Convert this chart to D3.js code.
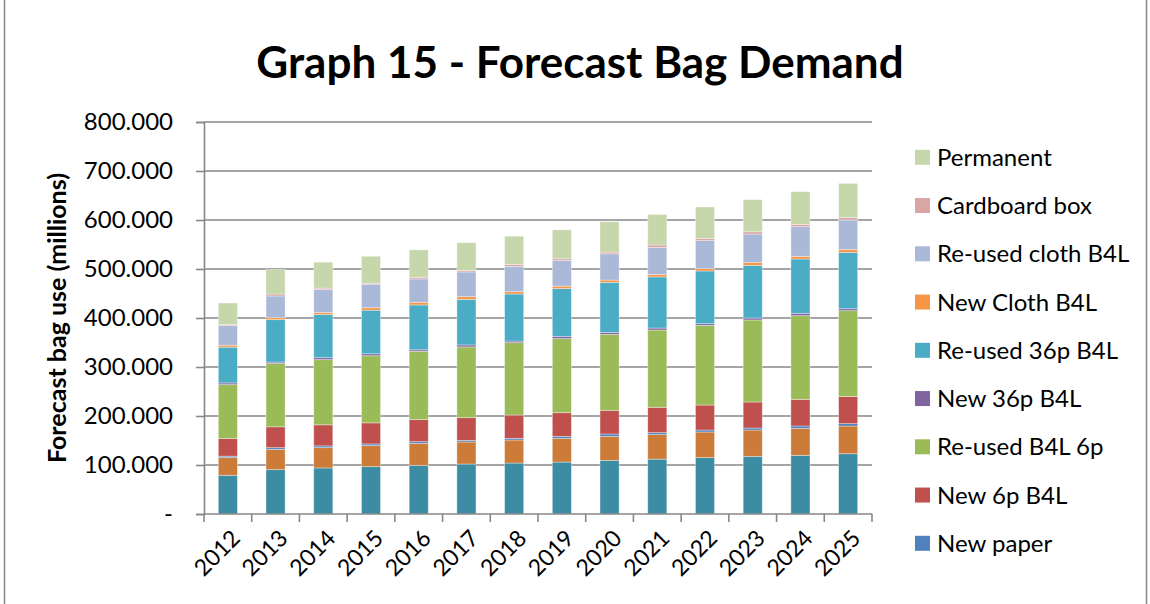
<!DOCTYPE html>
<html>
<head>
<meta charset="utf-8">
<script src="https://cdn.jsdelivr.net/npm/d3@7/dist/d3.min.js"></script>
<style>
  html, body { margin: 0; padding: 0; background: #fff; }
  svg { display: block; }
  text { font-family: Lato, "Open Sans", "Liberation Sans", sans-serif; fill: #000; }
</style>
</head>
<body>
<svg id="chart" width="1150" height="604"></svg>
<script>
// ---------- data ----------
const years = ["2012","2013","2014","2015","2016","2017","2018","2019","2020","2021","2022","2023","2024","2025"];

// series listed bottom of stack -> top
const seriesNames = ["Lightweight plastic","Re-used paper","New paper","New 6p B4L","Re-used B4L 6p","New 36p B4L","Re-used 36p B4L","New Cloth B4L","Re-used cloth B4L","Cardboard box","Permanent"];

const lightweightPlastic = [79, 90.5, 94, 96.6, 99.3, 102, 104, 106, 109.5, 112, 115, 117.7, 119.7, 123];
const reusedPaper        = [36, 41.5, 41.4, 42.9, 44.7, 45, 47, 48.4, 49, 50, 52.3, 53.7, 55.1, 56.6];
const newPaper           = [3, 3.4, 3.6, 3.5, 3.6, 3.3, 3.4, 4.1, 4.8, 4, 4.1, 4.1, 4.8, 4.8];
const new6pB4L           = [36, 42.6, 43, 43, 45, 46.3, 47.6, 48.3, 48.3, 51.7, 51, 53.1, 54.4, 55.6];
const reusedB4L6p        = [110, 129, 133, 137, 139.5, 144.4, 147.7, 151.2, 155, 157.8, 162.6, 167.4, 170.8, 175];
const new36pB4L          = [3.5, 3, 4, 4, 3, 4, 3.3, 4.6, 4, 4, 3.4, 4, 4.7, 4];
const reused36pB4L       = [73, 86.6, 88, 89, 91.5, 93, 96, 97.4, 102, 104.4, 107.6, 107.5, 110.9, 115];
const newClothB4L        = [4, 4.1, 4, 5, 5.5, 5.5, 4.7, 5, 4.8, 5, 4.7, 6.1, 5.5, 6];
const reusedClothB4L     = [40, 44.3, 47, 48, 47.6, 50.5, 51.7, 52.7, 53.4, 55, 57.3, 57.8, 60.5, 60];
const cardboardBox       = [2, 4, 3, 2, 3.4, 3, 4, 3.3, 3.7, 5, 4, 4.6, 4.6, 5.4];
const permanent          = [44, 50, 53, 55, 56, 56.7, 57.5, 59, 62, 62.6, 64.5, 65.5, 66.8, 69.4];

const seriesValues = [lightweightPlastic, reusedPaper, newPaper, new6pB4L, reusedB4L6p, new36pB4L, reused36pB4L, newClothB4L, reusedClothB4L, cardboardBox, permanent];
const seriesColors = ["#3C8CA3","#CC7B38","#4F81BD","#C0504D","#9BBB59","#8064A2","#4BACC6","#F79646","#AAB9D7","#D9A5A5","#C6D7AC"];

// legend shows these (top -> bottom), remaining entries are cut off
const legendNames = ["Permanent","Cardboard box","Re-used cloth B4L","New Cloth B4L","Re-used 36p B4L","New 36p B4L","Re-used B4L 6p","New 6p B4L","New paper"];

const yTickValues = [0,100,200,300,400,500,600,700,800];
const yTickLabels = ["-","100.000","200.000","300.000","400.000","500.000","600.000","700.000","800.000"];

const titleText = "Graph 15 - Forecast Bag Demand";
const yAxisTitle = "Forecast bag use (millions)";

// ---------- build table ----------
const table = years.map((y, i) => {
  const row = { year: y };
  seriesNames.forEach((n, k) => { row[n] = seriesValues[k][i]; });
  return row;
});
const stacked = d3.stack().keys(seriesNames)(table);
const colorOf = d3.scaleOrdinal().domain(seriesNames).range(seriesColors);

// ---------- layout ----------
const svg = d3.select("#chart");
const plot = { left: 204, right: 872, top: 122, bottom: 514 };
const gridColor = "#878787";

// chart border
svg.append("rect")
  .attr("x", 4.5).attr("y", -2).attr("width", 1142).attr("height", 610)
  .attr("fill", "none").attr("stroke", gridColor).attr("stroke-width", 1.5);

const x = d3.scaleBand().domain(years).range([plot.left, plot.right]).paddingInner(0.6).paddingOuter(0.3);
const xBoundary = d3.scaleLinear().domain([0, years.length]).range([plot.left, plot.right]);
const y = d3.scaleLinear().domain([0, 800]).range([plot.bottom, plot.top]);

// gridlines
svg.append("g").selectAll("line").data(yTickValues.filter(v => v > 0)).join("line")
  .attr("x1", plot.left).attr("x2", plot.right)
  .attr("y1", d => y(d)).attr("y2", d => y(d))
  .attr("stroke", gridColor).attr("stroke-width", 1.6);

// y axis
const yAxis = d3.axisLeft(y).tickValues(yTickValues)
  .tickFormat((d, i) => yTickLabels[i]).tickSize(8).tickPadding(23);
const gy = svg.append("g").attr("transform", `translate(${plot.left},0)`).call(yAxis);
gy.select(".domain").attr("stroke", gridColor).attr("stroke-width", 1.6);
gy.selectAll(".tick line").attr("stroke", gridColor).attr("stroke-width", 1.6);
gy.selectAll(".tick text").style("font-size", "24px").attr("fill", "#000")
  .style("font-family", "Lato, 'Open Sans', sans-serif");

// bars
svg.append("g").selectAll("g").data(stacked).join("g")
  .attr("fill", d => colorOf(d.key))
  .selectAll("rect").data(d => d).join("rect")
  .attr("x", d => x(d.data.year))
  .attr("width", x.bandwidth())
  .attr("y", d => y(d[1]))
  .attr("height", d => y(d[0]) - y(d[1]))
  .attr("stroke", "#ffffff").attr("stroke-opacity", 0.45).attr("stroke-width", 0.8);

// x axis
const gx = svg.append("g").attr("transform", `translate(0,${plot.bottom})`);
gx.append("line").attr("x1", plot.left).attr("x2", plot.right).attr("y1", 0).attr("y2", 0)
  .attr("stroke", gridColor).attr("stroke-width", 1.6);
gx.selectAll("line.tk").data(d3.range(years.length + 1)).join("line").attr("class", "tk")
  .attr("x1", d => xBoundary(d)).attr("x2", d => xBoundary(d))
  .attr("y1", 0).attr("y2", 8).attr("stroke", gridColor).attr("stroke-width", 1.6);
gx.selectAll("text").data(years).join("text")
  .attr("transform", d => `translate(${x(d) + x.bandwidth() / 2 + 8},${20}) rotate(-45)`)
  .attr("text-anchor", "end").attr("dy", "0.35em")
  .style("font-size", "23px")
  .text(d => d);

// title
svg.append("text").attr("x", 580).attr("y", 78).attr("text-anchor", "middle")
  .style("font-size", "44px").style("font-weight", "bold").text(titleText);

// y axis title
svg.append("text").attr("transform", "translate(66,318) rotate(-90)").attr("text-anchor", "middle")
  .style("font-size", "25px").style("font-weight", "bold").text(yAxisTitle);

// legend
const lg = svg.append("g").selectAll("g").data(legendNames).join("g")
  .attr("transform", (d, i) => `translate(915,${157.3 + i * 48.25})`);
lg.append("rect").attr("x", 0).attr("y", -7.5).attr("width", 15).attr("height", 15)
  .attr("fill", d => colorOf(d));
lg.append("text").attr("x", 22).attr("y", 0).attr("dy", "0.36em")
  .style("font-size", "24px").text(d => d);
</script>
</body>
</html>
